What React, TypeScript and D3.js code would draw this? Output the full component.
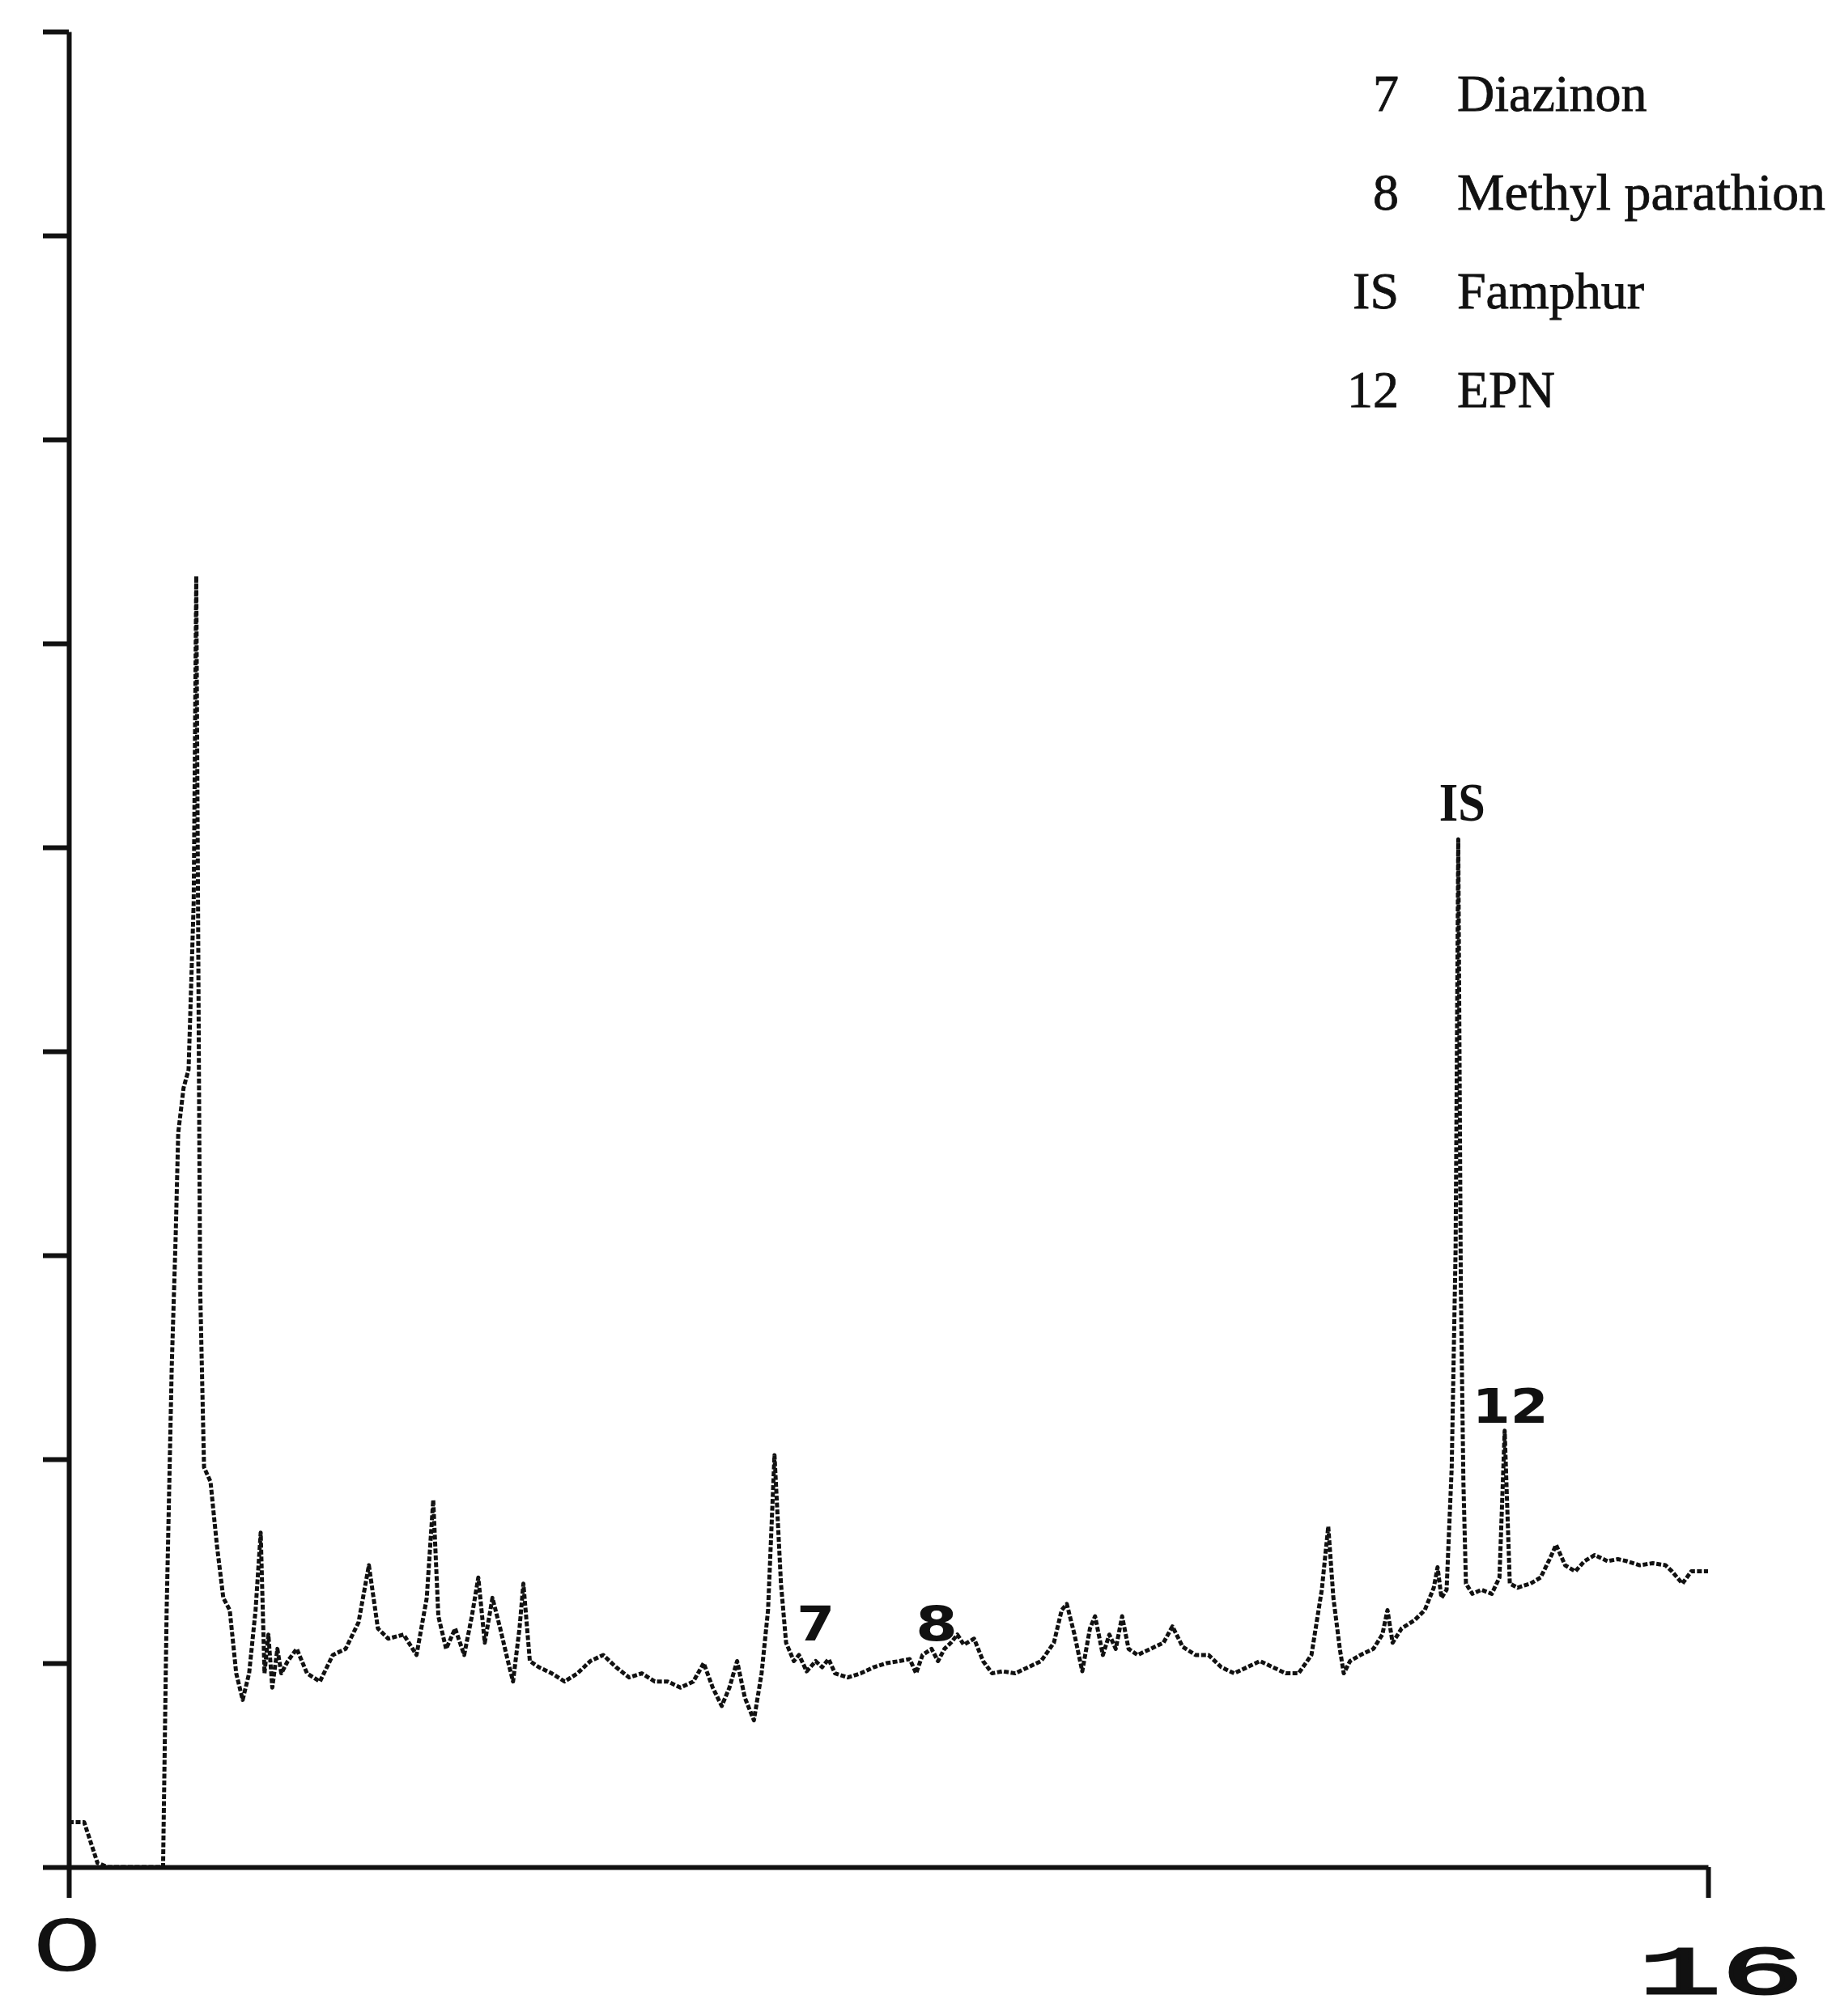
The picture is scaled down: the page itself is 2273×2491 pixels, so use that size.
import { useEffect, useRef } from 'react';
import * as d3 from 'd3';

// retention time (min) vs detector response (in axis divisions)
const trace: [number, number][] = [
  [0, 0.22], [0.15, 0.22], [0.28, 0.02], [0.38, 0], [0.92, 0], [0.955, 1.26], [1.005, 2.46],
  [1.043, 3.09], [1.068, 3.6], [1.12, 3.82], [1.169, 3.91], [1.219, 4.73], [1.244, 6.33],
  [1.27, 3.91], [1.282, 2.84], [1.32, 1.96], [1.383, 1.89], [1.445, 1.58], [1.508, 1.32],
  [1.571, 1.26], [1.634, 0.95], [1.697, 0.82], [1.76, 0.95], [1.823, 1.26], [1.873, 1.64],
  [1.91, 0.95], [1.948, 1.14], [1.986, 0.88], [2.036, 1.07], [2.074, 0.95], [2.137, 1.01],
  [2.225, 1.07], [2.325, 0.95], [2.451, 0.91], [2.577, 1.04], [2.702, 1.07], [2.828, 1.2],
  [2.929, 1.48], [3.017, 1.17], [3.117, 1.12], [3.268, 1.14], [3.394, 1.04], [3.494, 1.32],
  [3.557, 1.8], [3.607, 1.23], [3.683, 1.07], [3.771, 1.17], [3.859, 1.04], [3.934, 1.23],
  [3.997, 1.42], [4.06, 1.1], [4.135, 1.32], [4.211, 1.17], [4.286, 1.01], [4.336, 0.91],
  [4.399, 1.17], [4.437, 1.39], [4.5, 1.01], [4.588, 0.98], [4.713, 0.95], [4.839, 0.91],
  [4.965, 0.95], [5.09, 1.01], [5.216, 1.04], [5.342, 0.98], [5.468, 0.93], [5.593, 0.95],
  [5.719, 0.91], [5.845, 0.91], [5.97, 0.88], [6.096, 0.91], [6.197, 1.0], [6.285, 0.88],
  [6.373, 0.79], [6.448, 0.88], [6.523, 1.01], [6.599, 0.83], [6.687, 0.72], [6.762, 0.95],
  [6.825, 1.26], [6.888, 2.02], [6.951, 1.39], [7.001, 1.1], [7.077, 1.01], [7.127, 1.04],
  [7.202, 0.96], [7.29, 1.01], [7.353, 0.98], [7.416, 1.02], [7.479, 0.95], [7.604, 0.93],
  [7.73, 0.95], [7.856, 0.98], [7.982, 1.0], [8.107, 1.01], [8.208, 1.02], [8.27, 0.95],
  [8.333, 1.04], [8.421, 1.07], [8.484, 1.01], [8.547, 1.07], [8.61, 1.1], [8.673, 1.14],
  [8.736, 1.09], [8.836, 1.12], [8.924, 1.01], [9.012, 0.95], [9.113, 0.96], [9.238, 0.95],
  [9.364, 0.98], [9.49, 1.01], [9.615, 1.1], [9.691, 1.26], [9.741, 1.29], [9.816, 1.14],
  [9.892, 0.96], [9.967, 1.17], [10.017, 1.23], [10.093, 1.04], [10.156, 1.14], [10.219, 1.07],
  [10.281, 1.23], [10.344, 1.07], [10.432, 1.04], [10.558, 1.07], [10.684, 1.1], [10.772, 1.18],
  [10.872, 1.08], [10.998, 1.04], [11.124, 1.04], [11.249, 0.98], [11.375, 0.95], [11.501, 0.98],
  [11.627, 1.01], [11.752, 0.98], [11.878, 0.95], [12.003, 0.95], [12.129, 1.04], [12.23, 1.36],
  [12.293, 1.67], [12.343, 1.32], [12.406, 1.07], [12.444, 0.95], [12.506, 1.01], [12.607, 1.04],
  [12.733, 1.07], [12.821, 1.14], [12.871, 1.26], [12.921, 1.1], [13.009, 1.17], [13.134, 1.21],
  [13.235, 1.26], [13.323, 1.37], [13.36, 1.47], [13.398, 1.32], [13.448, 1.36], [13.498, 1.96],
  [13.536, 3.03], [13.562, 5.04], [13.587, 2.84], [13.612, 1.89], [13.637, 1.39], [13.7, 1.34],
  [13.788, 1.36], [13.889, 1.34], [13.964, 1.42], [14.015, 2.14], [14.065, 1.39], [14.14, 1.37],
  [14.266, 1.39], [14.366, 1.42], [14.454, 1.51], [14.517, 1.58], [14.605, 1.48], [14.705, 1.45],
  [14.793, 1.5], [14.894, 1.53], [15.02, 1.5], [15.12, 1.51], [15.208, 1.5], [15.334, 1.48],
  [15.46, 1.49], [15.585, 1.48], [15.648, 1.45], [15.749, 1.39], [15.837, 1.45], [16.0, 1.45]
];

const yTickValues = [0, 1, 2, 3, 4, 5, 6, 7, 8, 9];
const xTickValues = [0, 16];
const xTickLabels = ['0', '16'];

// peak annotations: label, retention time, level of the label baseline
const peakLabels = ['7', '8', 'IS', '12'];
const peakLabelTimes = [7.29, 8.47, 13.6, 14.07];
const peakLabelLevels = [1.11, 1.11, 5.13, 2.18];

const legendCodes = ['7', '8', 'IS', '12'];
const legendNames = ['Diazinon', 'Methyl parathion', 'Famphur', 'EPN'];

const INK = '#111';

const App = () => {
  const svgRef = useRef<SVGSVGElement>(null);
  const width = 2273;
  const height = 2491;

  useEffect(() => {
    const root = d3.select(svgRef.current);
    root.selectAll('*').remove();

    const xScale = d3.scaleLinear().domain([0, 16]).range([85, 2110]);
    const yScale = d3.scaleLinear().domain([0, 9]).range([2307, 39]);

    const svg = root.append('g');

    // y axis with its ticks (the top cap is the tick at 9)
    svg.append('g')
      .attr('transform', `translate(${xScale(0)},0)`)
      .call(d3.axisLeft(yScale)
        .tickValues(yTickValues)
        .tickSize(32)
        .tickSizeOuter(0)
        .tickFormat(() => ''))
      .call(g => g.selectAll('path, line').attr('stroke', INK).attr('stroke-width', 6));

    // x axis, only the two end ticks
    svg.append('g')
      .attr('transform', `translate(0,${yScale(0)})`)
      .call(d3.axisBottom(xScale)
        .tickValues(xTickValues)
        .tickSize(38)
        .tickSizeOuter(0)
        .tickFormat(() => ''))
      .call(g => g.selectAll('path, line').attr('stroke', INK).attr('stroke-width', 6));

    // stretched typewriter labels under the x axis
    const xLabelStyle = [
      { font: '"DejaVu Sans", sans-serif', fs: 88, len: 90, dy: 128, x: -47 },
      { font: '"Liberation Mono", monospace', fs: 84, len: 204, dy: 156, x: -86 }
    ];
    xTickLabels.forEach((label, i) => {
      const s = xLabelStyle[i];
      svg.append('text')
        .attr('x', xScale(xTickValues[i]) + s.x)
        .attr('y', yScale(0) + s.dy)
        .attr('font-family', s.font)
        .attr('font-size', s.fs)
        .attr('textLength', s.len)
        .attr('lengthAdjust', 'spacingAndGlyphs')
        .attr('fill', INK)
        .attr('stroke', INK)
        .attr('stroke-width', i === 0 ? 0 : 3)
        .text(label);
    });

    // chromatogram trace, dot-matrix look
    const line = d3.line<[number, number]>()
      .x(d => xScale(d[0]))
      .y(d => yScale(d[1]));

    svg.append('path')
      .datum(trace)
      .attr('fill', 'none')
      .attr('stroke', INK)
      .attr('stroke-width', 5)
      .attr('stroke-dasharray', '6 2.5')
      .attr('stroke-linejoin', 'round')
      .attr('d', line);

    // peak labels
    peakLabels.forEach((label, i) => {
      const isSerif = label === 'IS';
      const len = label === 'IS' ? 57 : label === '12' ? 94 : label === '8' ? 52 : 47;
      svg.append('text')
        .attr('x', xScale(peakLabelTimes[i]) - len / 2)
        .attr('y', yScale(peakLabelLevels[i]))
        .attr('font-family', isSerif ? '"Liberation Serif", serif' : '"DejaVu Sans", sans-serif')
        .attr('font-weight', 'bold')
        .attr('font-size', isSerif ? 68 : 58)
        .attr('textLength', len)
        .attr('lengthAdjust', 'spacingAndGlyphs')
        .attr('fill', INK)
        .text(label);
    });

    // legend, top right
    const legend = svg.append('g')
      .attr('font-family', '"Liberation Serif", "Times New Roman", serif')
      .attr('font-size', 64)
      .attr('fill', INK)
      .attr('stroke', INK)
      .attr('stroke-width', 0.8);

    legendCodes.forEach((code, i) => {
      const row = legend.append('g').attr('transform', `translate(0,${137 + i * 122})`);
      row.append('text')
        .attr('x', 1728)
        .attr('text-anchor', 'end')
        .text(code);
      row.append('text')
        .attr('x', 1800)
        .attr('textLength', i === 1 ? 455 : null)
        .attr('lengthAdjust', 'spacingAndGlyphs')
        .text(legendNames[i]);
    });
  }, []);

  return (
    <div style={{ position: 'absolute', left: 0, top: 0, background: '#fff' }}>
      <svg ref={svgRef} width={width} height={height} style={{ display: 'block' }} />
    </div>
  );
};

export default App;
